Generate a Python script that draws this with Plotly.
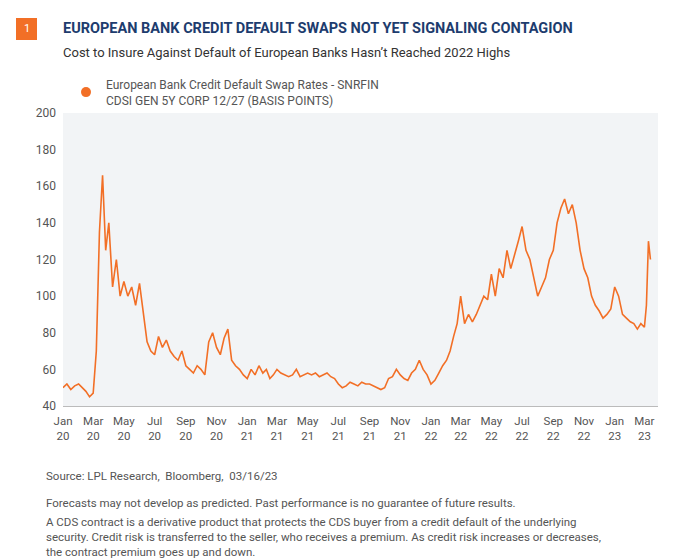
import plotly.graph_objects as go
import pandas as pd

months = pd.date_range("2020-01-01", "2023-03-01", freq="MS")
monthly_values = [
    [50,52,49,51],[52,50,48,45],[47,70,135,166,125],[140,105,120,100],[108,100,105,95],[107,90,75,70],
    [68,78,72,76],[70,67,65,70],[62,60,58,62],[60,57,75,80],[72,68,77,82],[65,62,60,57],
    [55,60,57,62],[58,60,55,57],[60,58,57,56],[57,60,56,57],[58,57,58,56],[57,58,56,55],
    [52,50,51,53],[52,51,53,52],[52,51,50,49],[50,55,56,60],[57,55,54,58],[60,65,60,57],
    [52,54,58,62],[65,70,78,85],[100,85,90,86],[90,95,100,98],[112,100,115,110],[125,115,122,130],
    [138,125,120,110],[100,105,110,120],[125,140,148,153],[145,150,140,125],[115,110,100,95],[92,88,90,93],
    [105,100,90,88],[86,85,82,85],[83,95,130,120],
]
tick_dates = pd.date_range("2020-01-01", "2023-03-01", freq="2MS")
tick_labels = [d.strftime("%b") + "<br>" + d.strftime("%y") for d in tick_dates]

xs, ys = [], []
for i, (m, vals) in enumerate(zip(months, monthly_values)):
    span = 16 if i == len(months) - 1 else m.days_in_month
    for j, v in enumerate(vals):
        xs.append(m + pd.Timedelta(days=span * j / len(vals)))
        ys.append(v)

orange = "#f26f26"
gray = "#555555"
H, T, B, L, R = 559, 105, 161, 55, 23
ph = H - T - B
pw = 673 - L - R
def py(pix): return (H - B - pix) / ph
def px(pix): return (pix - L) / pw

fig = go.Figure()
fig.add_trace(go.Scatter(x=xs, y=ys, mode="lines", line=dict(color=orange, width=1.6), showlegend=False))
fig.add_trace(go.Scatter(x=[None], y=[None], mode="markers", marker=dict(color=orange, size=10),
    name="European Bank Credit Default Swap Rates - SNRFIN<br>CDSI GEN 5Y CORP 12/27 (BASIS POINTS)"))
fig.update_layout(
    width=673, height=559, paper_bgcolor="white", plot_bgcolor="#f2f4f6",
    margin=dict(l=L, r=R, t=T, b=B),
    font=dict(family="Roboto", color=gray, size=12),
    showlegend=True,
    legend=dict(x=px(58), y=py(62), xanchor="left", yanchor="top", font=dict(size=12, color=gray),
                itemwidth=30, bgcolor="rgba(0,0,0,0)"),
    xaxis=dict(tickvals=list(tick_dates), ticktext=tick_labels, showgrid=False, showline=True,
               linecolor="#bbbbbb", range=[pd.Timestamp("2020-01-01"), pd.Timestamp("2023-03-28")],
               tickfont=dict(size=11.5, color=gray), ticklabelstandoff=4),
    yaxis=dict(range=[40, 200], dtick=20, showgrid=False, zeroline=False, tickfont=dict(size=12, color=gray),
               ticklabelstandoff=6),
)
fig.add_shape(type="rect", xref="paper", yref="paper", x0=px(8), x1=px(29), y0=py(32), y1=py(10),
              fillcolor=orange, line_width=0)
fig.add_annotation(text="1", xref="paper", yref="paper", x=px(18.5), y=py(21), xanchor="center", yanchor="middle",
                   showarrow=False, font=dict(color="white", size=11))
fig.add_annotation(text="<b>EUROPEAN BANK CREDIT DEFAULT SWAPS NOT YET SIGNALING CONTAGION</b>",
                   xref="paper", yref="paper", x=px(53), y=py(10), xanchor="left", yanchor="top", showarrow=False,
                   font=dict(family="Liberation Sans Narrow, Roboto", color="#1d3c6e", size=14.5))
fig.add_annotation(text="Cost to Insure Against Default of European Banks Hasn’t Reached 2022 Highs",
                   xref="paper", yref="paper", x=px(53), y=py(35), xanchor="left", yanchor="top", showarrow=False,
                   font=dict(family="Liberation Sans Narrow, Roboto", color="#333333", size=13))
footer = [
    (459, "Source: LPL Research,  Bloomberg,  03/16/23"),
    (486, "Forecasts may not develop as predicted. Past performance is no guarantee of future results."),
    (505, "A CDS contract is a derivative product that protects the CDS buyer from a credit default of the underlying<br>"
          "security. Credit risk is transferred to the seller, who receives a premium. As credit risk increases or decreases,<br>"
          "the contract premium goes up and down."),
]
for yp, t in footer:
    fig.add_annotation(text=t, xref="paper", yref="paper", x=px(36), y=py(yp), xanchor="left", yanchor="top",
                       showarrow=False, align="left", font=dict(size=11.5, color=gray))
fig.write_html("out.html")
